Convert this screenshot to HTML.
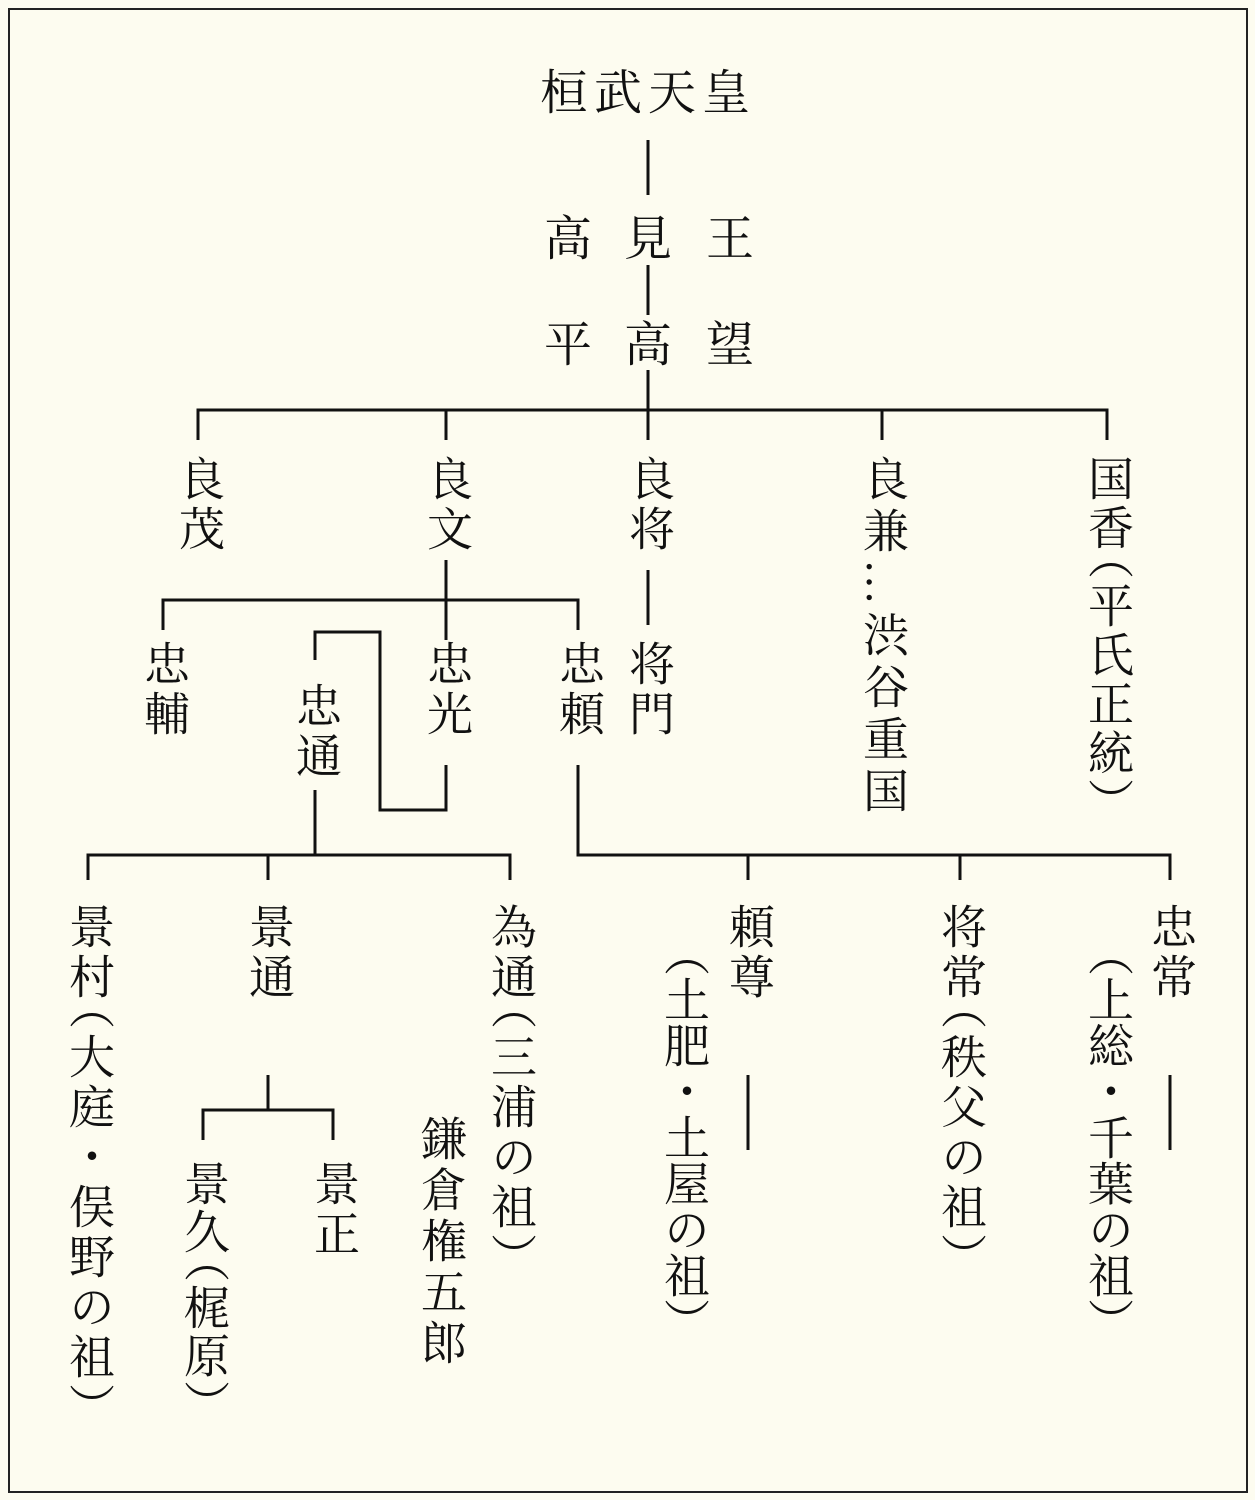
<!DOCTYPE html>
<html><head><meta charset="utf-8">
<style>
html,body{margin:0;padding:0;}
body{width:1255px;height:1500px;background:#fdfcf0;position:relative;overflow:hidden;font-family:"Liberation Serif","Noto Serif CJK SC","Noto Serif CJK JP",serif;color:#111;}
.frame{position:absolute;left:8px;top:8px;width:1236px;height:1481px;border:2px solid #222;}
.t{position:absolute;font-size:48px;line-height:48px;white-space:nowrap;}
.v{position:absolute;font-size:46px;line-height:48px;width:48px;writing-mode:vertical-rl;white-space:nowrap;}
.p{margin-top:-20px;}
svg{position:absolute;left:0;top:0;}
</style></head><body>
<div class="frame"></div>
<svg width="1255" height="1500" stroke="#111" stroke-width="3" fill="none">
<path d="M648 140V195M648 265V315M648 370V440"/>
<path d="M198 440V410H1107V440M446 410V440M882 410V440"/>
<path d="M648 570V625"/>
<path d="M446 560V640M163 630V600H578V630"/>
<path d="M446 765V810H380V632H315V660"/>
<path d="M315 790V855M88 880V855H510V880M268 855V880"/>
<path d="M578 765V855H1170V880M748 855V880M960 855V880"/>
<path d="M268 1075V1110M203 1140V1110H333V1140"/>
<path d="M748 1075V1150M1170 1075V1150"/>
</svg>
<div class="t" style="left:540px;top:70px;letter-spacing:6px;">桓武天皇</div>
<div class="t" style="left:544px;top:216px;">高</div>
<div class="t" style="left:624px;top:216px;">見</div>
<div class="t" style="left:706px;top:216px;">王</div>
<div class="t" style="left:544px;top:322px;">平</div>
<div class="t" style="left:624px;top:322px;">高</div>
<div class="t" style="left:706px;top:322px;">望</div>

<div class="v" style="left:174px;top:455px;letter-spacing:4px;">良茂</div>
<div class="v" style="left:422px;top:455px;letter-spacing:4px;">良文</div>
<div class="v" style="left:624px;top:455px;letter-spacing:4px;">良将</div>
<div class="v" style="left:624px;top:640px;letter-spacing:4px;">将門</div>
<div class="v" style="left:858px;top:455px;letter-spacing:6px;">良兼…渋谷重国</div>
<div class="v" style="left:1083px;top:455px;letter-spacing:3px;">国香<span class="p">（</span>平氏正統）</div>

<div class="v" style="left:139px;top:640px;letter-spacing:4px;">忠輔</div>
<div class="v" style="left:422px;top:640px;letter-spacing:4px;">忠光</div>
<div class="v" style="left:554px;top:640px;letter-spacing:4px;">忠頼</div>
<div class="v" style="left:291px;top:682px;letter-spacing:4px;">忠通</div>

<div class="v" style="left:64px;top:903px;letter-spacing:4px;">景村<span class="p">（</span>大庭・俣野の祖）</div>
<div class="v" style="left:244px;top:903px;letter-spacing:4px;">景通</div>
<div class="v" style="left:486px;top:903px;letter-spacing:4px;">為通<span class="p">（</span>三浦の祖）</div>
<div class="v" style="left:416px;top:1115px;letter-spacing:5px;">鎌倉権五郎</div>
<div class="v" style="left:179px;top:1160px;letter-spacing:2px;">景久<span class="p">（</span>梶原）</div>
<div class="v" style="left:309px;top:1160px;letter-spacing:4px;">景正</div>

<div class="v" style="left:724px;top:903px;letter-spacing:4px;">頼尊</div>
<div class="v" style="left:659px;top:930px;letter-spacing:0px;">（土肥・土屋の祖）</div>
<div class="v" style="left:936px;top:903px;letter-spacing:4px;">将常<span class="p">（</span>秩父の祖）</div>
<div class="v" style="left:1146px;top:903px;letter-spacing:4px;">忠常</div>
<div class="v" style="left:1083px;top:930px;letter-spacing:0px;">（上総・千葉の祖）</div>
</body></html>
